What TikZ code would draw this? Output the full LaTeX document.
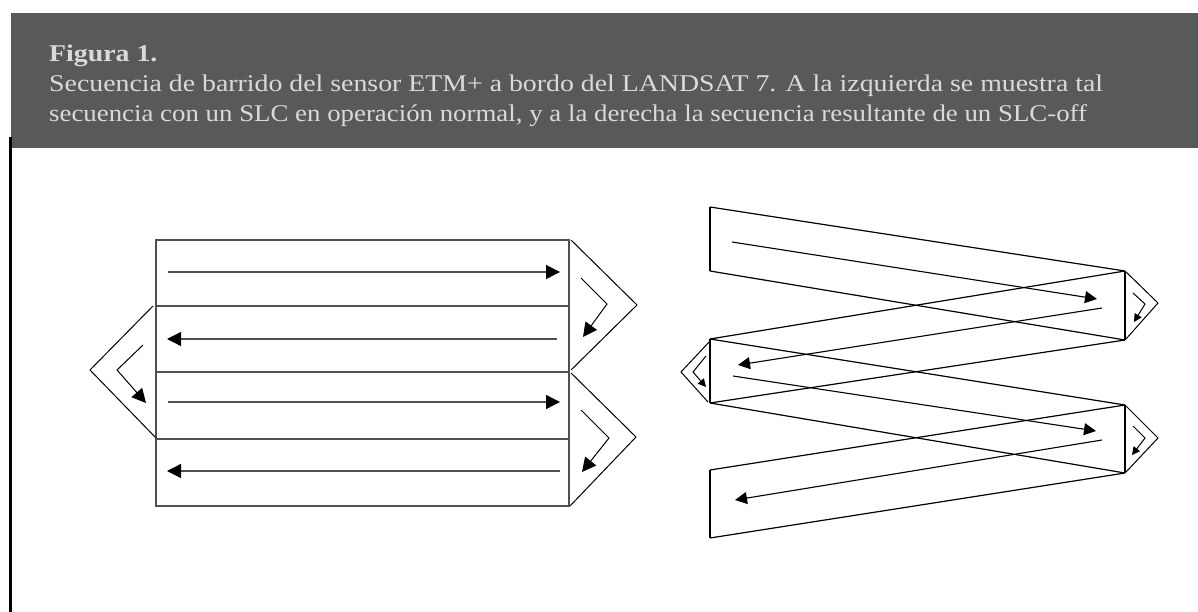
\documentclass[tikz,border=0pt]{standalone}
\usepackage{fontspec}
\setmainfont[FakeStretch=1.159]{Liberation Serif}
\usetikzlibrary{arrows.meta}
\definecolor{headgray}{RGB}{88,89,91}
\definecolor{headtext}{RGB}{218,218,220}
\definecolor{boxgray}{RGB}{80,80,80}
\tikzset{
  boxline/.style={draw=boxgray,line width=1.3pt},
  chev/.style={draw=black,line width=1pt},
  bigarrow/.style={draw=boxgray,line width=1.3pt,-{Triangle[length=14pt,width=14pt,color=black]}},
  turnarrow/.style={draw=black,line width=1pt,-{Triangle[length=14pt,width=14pt]}},
  midarrow/.style={draw=black,line width=1.1pt,-{Triangle[length=12pt,width=12pt]}},
  smallarrow/.style={draw=black,line width=1pt,-{Triangle[length=8pt,width=8pt]}},
  bandline/.style={draw=black,line width=1.2pt},
  captext/.style={anchor=base west,text=headtext,inner sep=0pt,font=\fontsize{24}{30}\selectfont}
}
\begin{document}
\begin{tikzpicture}[x=1pt,y=-1pt,line join=miter]
\useasboundingbox (0,0) rectangle (1198,612);
% header
\fill[headgray] (11,13) rectangle (1198,148);
\draw[line width=2.2pt] (10.5,137) -- (10.5,612);
\node[captext] (t1) at (49,62) {\textbf{Figura 1.}};
\node[captext] (t2) at (49,91.5) {Secuencia de barrido del sensor ETM+ a bordo del LANDSAT 7. A la izquierda se muestra tal};
\node[captext] (t3) at (49,121.5) {\scalebox{0.965}[1]{secuencia con un SLC en operación normal, y a la derecha la secuencia resultante de un SLC-off}};

% ---------- left figure ----------
\draw[boxline] (156,240) rectangle (569,506);
\draw[boxline] (156,306) -- (569,306);
\draw[boxline] (156,372) -- (569,372);
\draw[boxline] (156,439) -- (569,439);
% chevrons
\draw[chev] (571,240) -- (637,305) -- (571,370);
\draw[chev] (571,373) -- (636,437) -- (570,506);
\draw[chev] (153,306) -- (90,370) -- (156,438);
% inner turn arrows
\draw[turnarrow] (581,278) -- (607,304) -- (583,337);
\draw[turnarrow] (143,345) -- (117,370) -- (146,403);
\draw[turnarrow] (581,410) -- (609,438) -- (582,472);
% scan arrows
\coordinate (l1a) at (168,272); \coordinate (l1b) at (560,272);
\coordinate (l2a) at (557,339); \coordinate (l2b) at (167,339);
\coordinate (l3a) at (168,402); \coordinate (l3b) at (560,402);
\coordinate (l4a) at (560,471); \coordinate (l4b) at (167,471);
\draw[bigarrow] (l1a) -- (l1b);
\draw[bigarrow] (l2a) -- (l2b);
\draw[bigarrow] (l3a) -- (l3b);
\draw[bigarrow] (l4a) -- (l4b);

% ---------- right figure ----------
\coordinate (A1) at (710,207); \coordinate (A2) at (710,271);
\coordinate (B1) at (1125,271); \coordinate (B2) at (1125,340);
\coordinate (C1) at (710,339); \coordinate (C2) at (710,403);
\coordinate (D1) at (1125,405); \coordinate (D2) at (1125,473);
\coordinate (E1) at (710,470); \coordinate (E2) at (710,538);
\draw[bandline] (A1) -- (A2);
\draw[bandline] (A1) -- (B1);
\draw[bandline] (A2) -- (B2);
\draw[bandline] (B1) -- (B2);
\draw[bandline] (B1) -- (C1);
\draw[bandline] (B2) -- (C2);
\draw[bandline] (C1) -- (C2);
\draw[bandline] (C1) -- (D1);
\draw[bandline] (C2) -- (D2);
\draw[bandline] (D1) -- (D2);
\draw[bandline] (D1) -- (E1);
\draw[bandline] (D2) -- (E2);
\draw[bandline] (E1) -- (E2);
% scan arrows
\coordinate (r1a) at (732,242); \coordinate (r1b) at (1097,299);
\coordinate (r2a) at (1102,308); \coordinate (r2b) at (738,365);
\coordinate (r3a) at (733,376); \coordinate (r3b) at (1096,431);
\coordinate (r4a) at (1102,440); \coordinate (r4b) at (735,500);
\draw[midarrow] (r1a) -- (r1b);
\draw[midarrow] (r2a) -- (r2b);
\draw[midarrow] (r3a) -- (r3b);
\draw[midarrow] (r4a) -- (r4b);
% chevrons
\draw[chev] (1126,272) -- (1158,303) -- (1126,339);
\draw[chev] (1125,405) -- (1158,438) -- (1126,472);
\draw[chev] (710,341) -- (681,372) -- (708,402);
\draw[smallarrow] (1133,293) -- (1145,304) -- (1134,322);
\draw[smallarrow] (1133,426) -- (1145,438) -- (1132,455);
\draw[smallarrow] (706,356) -- (693,372) -- (706,387);
\end{tikzpicture}
\end{document}
